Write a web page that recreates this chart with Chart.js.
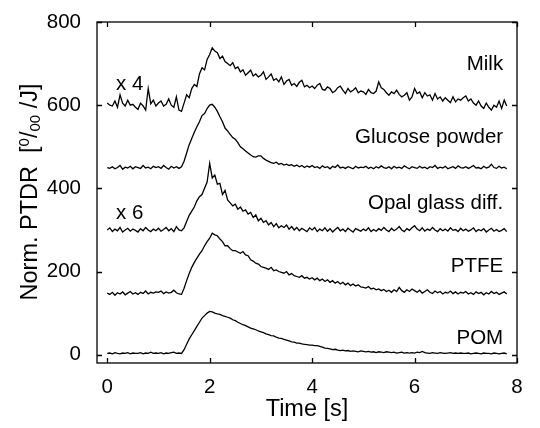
<!DOCTYPE html>
<html>
<head>
<meta charset="utf-8">
<script src="https://cdn.jsdelivr.net/npm/chart.js@4.4.1/dist/chart.umd.min.js"></script>
<style>
  html, body { margin: 0; padding: 0; background: #fff; }
  #wrap { width: 540px; height: 428px; }
</style>
</head>
<body>
<div id="wrap"><canvas id="ptdr_chart"></canvas></div>
<script>
var timeS = [
  0.00,0.05,0.10,0.15,0.20,0.25,0.30,0.35,0.40,0.45,0.50,0.55,0.60,0.65,0.70,0.75,0.80,0.85,0.90,0.95,
  1.00,1.05,1.10,1.15,1.20,1.25,1.30,1.35,1.40,1.45,1.50,1.55,1.60,1.65,1.70,1.75,1.80,1.85,1.90,1.95,
  2.00,2.05,2.10,2.15,2.20,2.25,2.30,2.35,2.40,2.45,2.50,2.55,2.60,2.65,2.70,2.75,2.80,2.85,2.90,2.95,
  3.00,3.05,3.10,3.15,3.20,3.25,3.30,3.35,3.40,3.45,3.50,3.55,3.60,3.65,3.70,3.75,3.80,3.85,3.90,3.95,
  4.00,4.05,4.10,4.15,4.20,4.25,4.30,4.35,4.40,4.45,4.50,4.55,4.60,4.65,4.70,4.75,4.80,4.85,4.90,4.95,
  5.00,5.05,5.10,5.15,5.20,5.25,5.30,5.35,5.40,5.45,5.50,5.55,5.60,5.65,5.70,5.75,5.80,5.85,5.90,5.95,
  6.00,6.05,6.10,6.15,6.20,6.25,6.30,6.35,6.40,6.45,6.50,6.55,6.60,6.65,6.70,6.75,6.80,6.85,6.90,6.95,
  7.00,7.05,7.10,7.15,7.20,7.25,7.30,7.35,7.40,7.45,7.50,7.55,7.60,7.65,7.70,7.75,7.80
];

var milk = [
  605,600,598,610,595,625,605,598,612,600,602,595,590,605,598,588,640,603,612,598,
  605,610,598,602,615,600,595,620,588,585,605,625,618,640,650,645,675,690,685,710,
  722,738,730,726,712,718,705,700,695,702,688,692,680,685,672,678,684,670,675,668,
  672,680,662,668,675,660,664,656,668,650,658,662,648,652,645,655,660,644,648,642,
  646,640,648,652,638,636,644,640,630,634,642,646,636,628,640,632,636,642,630,634,
  632,626,638,630,628,634,656,642,638,630,624,632,628,636,626,620,624,630,612,620,
  640,628,632,618,630,622,625,612,628,615,620,610,618,612,606,620,608,615,612,618,
  622,610,615,605,600,610,598,592,605,595,588,600,595,610,592,612,598,605,596,600,594
];

var glucose = [
  450,448,452,447,450,455,446,451,449,453,447,452,450,448,455,449,451,447,453,450,
  452,448,455,450,446,453,449,452,448,452,465,485,505,520,535,548,560,575,580,592,
  600,602,595,585,572,560,545,538,530,522,518,510,500,495,490,485,480,476,475,478,
  478,472,468,465,462,460,463,458,460,456,458,455,457,453,456,452,455,450,454,451,
  455,450,452,448,454,450,452,447,453,450,456,449,451,448,452,450,447,453,449,451,
  450,453,448,451,447,452,449,454,450,448,452,447,453,449,451,448,454,450,447,452,
  450,448,453,449,451,447,452,450,455,448,451,449,453,447,450,452,448,454,450,449,
  452,448,451,455,449,450,447,453,449,451,458,450,448,453,449,451,447,452,450,449,451
];

var opal = [
  300,305,296,302,298,306,295,300,304,297,302,299,295,303,298,306,300,296,302,298,
  304,297,301,306,298,303,296,308,300,298,305,320,335,345,355,370,380,385,400,415,
  460,425,432,410,412,385,395,372,365,358,362,350,355,345,348,338,342,330,336,322,
  328,318,322,312,318,308,315,305,310,306,312,302,308,300,306,298,304,300,296,305,
  300,306,296,302,298,305,297,303,295,301,306,298,302,296,304,299,295,303,300,297,
  302,298,305,296,301,297,303,299,306,300,296,304,298,302,308,300,296,303,299,305,
  310,302,298,305,297,302,299,306,300,296,303,298,302,297,305,299,301,296,304,298,
  302,297,300,305,296,301,298,303,295,300,304,297,301,296,299,303,296,300,298,302,306
];

var ptfe = [
  148,145,150,143,149,146,151,144,148,152,146,149,145,150,147,153,146,150,148,151,
  150,153,147,151,148,150,155,149,146,145,160,178,195,210,222,232,242,250,262,272,
  280,292,288,286,278,272,262,262,255,250,250,247,244,248,240,238,228,225,220,218,
  212,210,208,205,210,202,204,200,198,196,200,192,195,190,188,186,190,184,186,182,
  185,180,184,178,182,176,180,174,178,172,176,170,174,168,172,166,170,165,168,163,
  162,160,164,158,160,156,158,154,157,152,155,150,156,152,162,154,150,156,152,158,
  154,150,155,148,152,156,150,147,153,149,152,146,150,148,153,147,151,146,150,148,
  152,146,149,145,151,147,150,144,149,146,152,147,150,145,148,151,146,149,147,150,152
];

var pom = [
  3,4,2,5,3,2,4,3,5,2,4,3,3,5,2,4,3,6,3,4,
  3,5,2,4,3,5,6,3,4,3,12,25,38,48,58,68,78,88,94,100,
  104,103,100,98,97,94,92,90,88,84,82,78,75,72,70,67,64,62,60,57,
  55,53,50,48,46,45,42,40,39,37,35,33,31,30,28,28,26,25,24,23,
  23,22,22,20,18,16,15,14,12,13,11,10,11,9,10,8,9,8,7,9,
  8,7,8,6,7,5,7,6,5,7,6,5,6,4,5,6,4,5,4,5,
  4,6,5,8,5,4,3,5,4,3,5,4,3,4,5,3,4,3,4,3,
  3,4,2,3,4,3,2,4,3,3,2,4,3,2,3,4,2,3,2,3,2
];

var xTicks = [0, 2, 4, 6, 8];
var yTicks = [0, 200, 400, 600, 800];

// curve names and scale factors, placed in data units
var curveLabels = [
  { text: 'Milk', x: 7.73, y: 697, align: 'right' },
  { text: 'Glucose powder', x: 7.73, y: 523, align: 'right' },
  { text: 'Opal glass diff.', x: 7.73, y: 365, align: 'right' },
  { text: 'PTFE', x: 7.73, y: 213, align: 'right' },
  { text: 'POM', x: 7.73, y: 40, align: 'right' },
  { text: 'x 4', x: 0.17, y: 650, align: 'left' },
  { text: 'x 6', x: 0.17, y: 341, align: 'left' }
];

var FONT = "'Liberation Sans', Arial, Helvetica, sans-serif";

function pts(ys) {
  var out = [];
  for (var i = 0; i < ys.length; i++) out.push({ x: timeS[i], y: ys[i] });
  return out;
}

function lineSet(name, ys) {
  return {
    label: name,
    data: pts(ys),
    borderColor: '#000',
    borderWidth: 1.3,
    pointRadius: 0,
    tension: 0,
    fill: false
  };
}

var framePlugin = {
  id: 'frame',
  afterDatasetsDraw: function(chart) {
    var c = chart.ctx, a = chart.chartArea;
    var xs = chart.scales.x, ys = chart.scales.y;
    c.save();
    c.strokeStyle = '#000';
    c.lineWidth = 1.3;
    c.strokeRect(a.left, a.top, a.right - a.left, a.bottom - a.top);
    c.beginPath();
    xTicks.forEach(function(v) {
      var px = Math.round(xs.getPixelForValue(v)) + 0.5;
      c.moveTo(px, a.bottom); c.lineTo(px, a.bottom - 5);
      c.moveTo(px, a.top); c.lineTo(px, a.top + 5);
    });
    yTicks.forEach(function(v) {
      var py = Math.round(ys.getPixelForValue(v)) + 0.5;
      c.moveTo(a.left, py); c.lineTo(a.left + 5, py);
      c.moveTo(a.right, py); c.lineTo(a.right - 5, py);
    });
    c.stroke();

    // curve labels
    c.fillStyle = '#000';
    c.font = '20.5px ' + FONT;
    c.textBaseline = 'middle';
    curveLabels.forEach(function(l) {
      c.textAlign = l.align;
      c.fillText(l.text, xs.getPixelForValue(l.x), ys.getPixelForValue(l.y));
    });

    // y axis title with per-mille superscript/subscript
    c.translate(31, 192);
    c.rotate(-Math.PI / 2);
    c.textBaseline = 'middle';
    c.textAlign = 'left';
    var parts = [
      { t: 'Norm. PTDR  [', size: 23.5, dy: 0 },
      { t: '0', size: 15, dy: -6 },
      { t: '/', size: 23.5, dy: 0 },
      { t: '00', size: 15, dy: 5 },
      { t: ' /J]', size: 23.5, dy: 0 }
    ];
    var total = 0;
    parts.forEach(function(p) { c.font = p.size + 'px ' + FONT; total += c.measureText(p.t).width; });
    var cx = -total / 2;
    parts.forEach(function(p) {
      c.font = p.size + 'px ' + FONT;
      c.fillText(p.t, cx, p.dy);
      cx += c.measureText(p.t).width;
    });
    c.restore();
  }
};

var ctx = document.getElementById('ptdr_chart').getContext('2d');

var ptdr_chart = new Chart(ctx, {
  type: 'line',
  data: {
    datasets: [
      lineSet('Milk', milk),
      lineSet('Glucose powder', glucose),
      lineSet('Opal glass diff.', opal),
      lineSet('PTFE', ptfe),
      lineSet('POM', pom)
    ]
  },
  options: {
    responsive: true,
    maintainAspectRatio: false,
    animation: false,
    layout: { padding: { top: 22, right: 23, left: 0, bottom: 0 } },
    plugins: { legend: { display: false }, tooltip: { enabled: false } },
    scales: {
      x: {
        type: 'linear',
        min: -0.2,
        max: 8.0,
        grid: { display: false },
        border: { display: false },
        afterBuildTicks: function(s) { s.ticks = xTicks.map(function(v) { return { value: v }; }); },
        afterFit: function(s) { s.height = 65; },
        ticks: { color: '#000', font: { family: FONT, size: 20.5 }, padding: 4, maxRotation: 0 },
        title: { display: true, text: 'Time [s]', color: '#000', font: { family: FONT, size: 23.5 }, padding: { top: 3 } }
      },
      y: {
        min: -20,
        max: 800,
        grid: { display: false },
        border: { display: false },
        afterBuildTicks: function(s) { s.ticks = yTicks.map(function(v) { return { value: v }; }); },
        afterFit: function(s) { s.width = 97; },
        ticks: { color: '#000', font: { family: FONT, size: 20.5 }, padding: 8 }
      }
    }
  },
  plugins: [framePlugin]
});
</script>
</body>
</html>
